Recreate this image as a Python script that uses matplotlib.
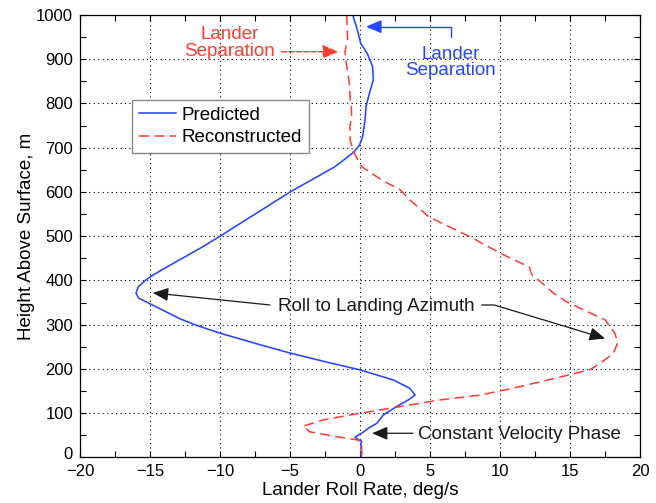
import matplotlib
matplotlib.use("Agg")
import matplotlib.pyplot as plt
import matplotlib.transforms as mtransforms
from matplotlib.ticker import MultipleLocator

plt.rcParams['font.family'] = ['Liberation Sans', 'DejaVu Sans']

BLUE = '#2546ff'
RED = '#ff3b30'
DARK = '#1a1a1a'

# Predicted roll-rate profile (height in m, roll rate in deg/s)
h_pred = [1000, 996, 966, 936, 913, 883, 853, 823, 793, 763, 725, 705, 690, 675,
          657, 638, 600, 550, 500, 475, 450, 425, 410, 400, 385, 371, 360, 349,
          330, 314, 300, 281, 258, 236, 215, 198, 175, 156, 141, 130, 115, 96,
          77, 66, 55, 46, 40, 37, 30, 20, 10, 0]
rate_pred = [-0.5, -0.48, -0.19, 0.05, 0.52, 0.9, 0.95, 0.67, 0.43, 0.36, 0.19,
             -0.05, -0.45, -1.05, -1.8, -2.86, -5.0, -7.5, -10.0, -11.3, -12.7,
             -14.1, -14.9, -15.35, -15.85, -16.0, -15.8, -15.1, -13.9, -12.9,
             -11.8, -10.0, -7.5, -5.0, -2.3, 0.0, 2.4, 3.57, 3.93, 3.45, 2.6,
             1.67, 1.19, 0.6, 0.12, -0.36, -0.1, 0.12, 0.05, 0.1, 0.05, 0.1]

# Reconstructed roll-rate profile
h_rec = [1000, 996, 944, 917, 883, 846, 808, 793, 770, 748, 717, 691, 657, 627,
         605, 582, 544, 498, 462, 430, 420, 412, 397, 372, 351, 311, 281, 259,
         236, 216, 198, 180, 160, 141, 130, 100, 85, 71, 58, 47, 40, 37, 30,
         20, 10, 0]
rate_rec = [-0.95, -0.95, -0.88, -1.07, -0.95, -0.76, -0.7, -0.62, -0.6, -0.72,
            -0.7, -0.47, 0.12, 1.55, 2.86, 3.57, 4.9, 7.9, 10.0, 12.1, 12.2,
            12.3, 12.9, 13.8, 14.8, 17.5, 18.2, 18.4, 18.1, 17.3, 16.4, 14.07,
            11.4, 8.6, 5.7, 0.0, -2.6, -4.06, -3.6, -1.7, -0.24, 0.0, 0.15,
            0.1, 0.15, 0.1]

x_ticks = [-20, -15, -10, -5, 0, 5, 10, 15, 20]
y_ticks = [0, 100, 200, 300, 400, 500, 600, 700, 800, 900, 1000]

fig = plt.figure(figsize=(6.56, 5.03), dpi=100)
ax = fig.add_axes([0.12195, 0.0905, 0.8537, 0.8797])

ax.plot(rate_pred, h_pred, color=BLUE, lw=1.15, label='Predicted')
ax.plot(rate_rec, h_rec, color=RED, lw=1.1, dashes=(6.5, 3.5), label='Reconstructed')

ax.set_xlim(x_ticks[0], x_ticks[-1])
ax.set_ylim(y_ticks[0], y_ticks[-1])
ax.set_xticks(x_ticks)
ax.set_yticks(y_ticks)
ax.xaxis.set_minor_locator(MultipleLocator(2.5))
ax.yaxis.set_minor_locator(MultipleLocator(50))
ax.set_xticklabels([f'{v}'.replace('-', '\u2212') for v in x_ticks])
ax.tick_params(which='both', direction='in', top=True, right=True,
               length=4, width=0.8, labelsize=12)
ax.tick_params(axis='y', pad=5)
ax.tick_params(axis='x', pad=5)
ax.grid(which='major', color='black', linestyle=(0, (1, 3)), lw=0.8)
for s in ax.spines.values():
    s.set_linewidth(0.9)

# lift the "0" height label a little so it clears the corner x label
lift = mtransforms.ScaledTranslation(0, 3 / 72, fig.dpi_scale_trans)
ylab0 = ax.get_yticklabels()[0]
ylab0.set_transform(ylab0.get_transform() + lift)

ax.set_xlabel('Lander Roll Rate, deg/s', fontsize=13.5, labelpad=2)
ax.set_ylabel('Height Above Surface, m', fontsize=13.5, labelpad=1)

ax.legend(loc='upper left', bbox_to_anchor=(0.093, 0.808), borderaxespad=0,
          fancybox=False, edgecolor='#888888', framealpha=1, fontsize=13.5,
          handlelength=2.0, handletextpad=0.3, borderpad=0.35, labelspacing=0.3)

head = '-|>,head_length=0.7,head_width=0.3'

# Separation markers
ax.text(-9.3, 937, 'Lander\nSeparation', color=RED, ha='center', va='center',
        fontsize=13.5, linespacing=0.95)
ax.annotate('', xy=(-1.55, 917), xytext=(-5.6, 917),
            arrowprops=dict(arrowstyle=head, color=RED, lw=1.0, linestyle='--',
                            shrinkA=0, shrinkB=0, mutation_scale=13.5))

ax.text(6.46, 893, 'Lander\nSeparation', color=BLUE, ha='center', va='center',
        fontsize=13.5, linespacing=0.95)
ax.annotate('', xy=(0.43, 973.6), xytext=(6.48, 951),
            arrowprops=dict(arrowstyle=head, color=BLUE, lw=1.0,
                            connectionstyle='angle,angleA=90,angleB=0,rad=0',
                            shrinkA=0, shrinkB=0, mutation_scale=13.5))

# Roll to landing azimuth
ax.text(1.18, 342, 'Roll to Landing Azimuth', color=DARK, ha='center',
        va='center', fontsize=13.5)
ax.annotate('', xy=(-14.8, 372), xytext=(-6.43, 344.6),
            arrowprops=dict(arrowstyle=head, color=DARK, lw=0.9,
                            shrinkA=0, shrinkB=0, mutation_scale=13.5))
ax.annotate('', xy=(17.5, 269), xytext=(8.69, 344.6),
            arrowprops=dict(arrowstyle=head, color=DARK, lw=0.9,
                            connectionstyle='angle,angleA=0,angleB=-16.8,rad=0',
                            shrinkA=0, shrinkB=0, mutation_scale=13.5))

# Constant velocity phase
ax.text(11.37, 53, 'Constant Velocity Phase', color=DARK, ha='center',
        va='center', fontsize=13.5)
ax.annotate('', xy=(0.86, 54.7), xytext=(3.79, 54.7),
            arrowprops=dict(arrowstyle=head, color=DARK, lw=0.9,
                            shrinkA=0, shrinkB=0, mutation_scale=13.5))

fig.savefig('out.png', dpi=100)
